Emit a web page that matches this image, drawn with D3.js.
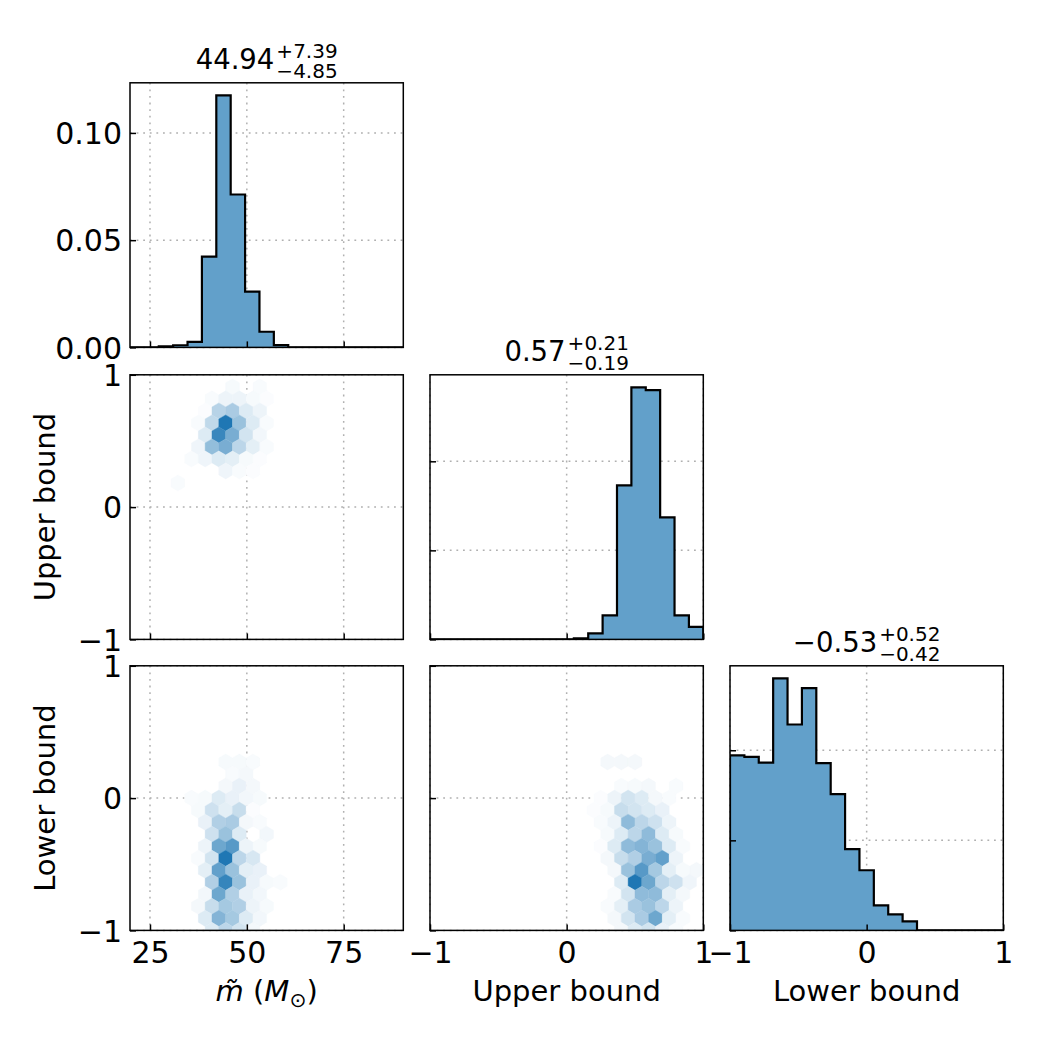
<!DOCTYPE html>
<html><head><meta charset="utf-8">
<script src="https://cdn.jsdelivr.net/npm/d3@7"></script>
<style>
body{margin:0;background:#fff}
svg{display:block}
text{font-family:"DejaVu Sans",sans-serif;fill:#000}
</style>
</head><body>
<svg id="c" width="1050" height="1050"></svg>
<script>
// ---------------- data ----------------
const mExtent = [19.84, 90.39];          // m~ (M_sun) range
const boundExtent = [-1, 1];             // upper / lower bound range
const histM     = [0,0,0.0005,0.001,0.0026,0.0423,0.1175,0.0713,0.026,0.0073,0.0011,0,0,0,0,0,0,0,0];
const histUpper = [0,0,0,0,0,0,0,0,0,0,0.011,0.067,0.27,1.73,2.83,2.80,1.37,0.27,0.14];
const histLower = [0.972,0.963,0.931,1.399,1.143,1.345,0.929,0.756,0.451,0.334,0.139,0.089,0.050,0,0,0,0,0,0];

const hexGridsize = 20;
// [x, y, relative count]
const hexMUpper = [
 [46.30,0.909,0.04],[53.35,0.909,0.03],
 [41.00,0.818,0.03],[44.53,0.818,0.08],[48.06,0.818,0.08],[51.59,0.818,0.04],[55.11,0.818,0.02],
 [39.24,0.727,0.02],[42.77,0.727,0.32],[46.30,0.727,0.38],[49.82,0.727,0.15],[53.35,0.727,0.08],
 [37.48,0.636,0.03],[41.00,0.636,0.28],[44.53,0.636,1.0],[48.06,0.636,0.45],[51.59,0.636,0.15],[55.11,0.636,0.03],
 [39.24,0.545,0.15],[42.77,0.545,0.88],[46.30,0.545,0.6],[49.82,0.545,0.2],[53.35,0.545,0.06],
 [37.48,0.455,0.07],[41.00,0.455,0.48],[44.53,0.455,0.6],[48.06,0.455,0.3],[51.59,0.455,0.12],[55.11,0.455,0.03],
 [35.71,0.364,0.03],[39.24,0.364,0.07],[42.77,0.364,0.15],[46.30,0.364,0.12],[49.82,0.364,0.04],[53.35,0.364,0.02],
 [44.53,0.273,0.07],[48.06,0.273,0.03],[51.59,0.273,0.02],
 [32.19,0.182,0.03]
];
const hexMLower = [
 [44.53,0.273,0.04],[48.06,0.273,0.04],[51.59,0.273,0.03],
 [46.30,0.182,0.03],[49.82,0.182,0.05],
 [44.53,0.091,0.05],[48.06,0.091,0.1],[51.59,0.091,0.05],
 [35.71,0,0.03],[39.24,0,0.04],[42.77,0,0.15],[46.30,0,0.1],[49.82,0,0.06],[53.35,0,0.04],
 [37.48,-0.091,0.04],[41.00,-0.091,0.22],[44.53,-0.091,0.12],[48.06,-0.091,0.25],[51.59,-0.091,0.02],
 [39.24,-0.182,0.1],[42.77,-0.182,0.35],[46.30,-0.182,0.38],[49.82,-0.182,0.05],[53.35,-0.182,0.03],
 [41.00,-0.273,0.22],[44.53,-0.273,0.45],[48.06,-0.273,0.15],[55.11,-0.273,0.06],
 [39.24,-0.364,0.08],[42.77,-0.364,0.65],[46.30,-0.364,0.75],[49.82,-0.364,0.08],[53.35,-0.364,0.04],
 [37.48,-0.455,0.03],[41.00,-0.455,0.2],[44.53,-0.455,1.0],[48.06,-0.455,0.3],[51.59,-0.455,0.18],
 [39.24,-0.545,0.12],[42.77,-0.545,0.7],[46.30,-0.545,0.45],[49.82,-0.545,0.12],[53.35,-0.545,0.1],
 [41.00,-0.636,0.35],[44.53,-0.636,0.9],[48.06,-0.636,0.45],[51.59,-0.636,0.1],[55.11,-0.636,0.04],[58.64,-0.636,0.03],
 [39.24,-0.727,0.06],[42.77,-0.727,0.65],[46.30,-0.727,0.35],[49.82,-0.727,0.1],[53.35,-0.727,0.06],
 [37.48,-0.818,0.05],[41.00,-0.818,0.25],[44.53,-0.818,0.4],[48.06,-0.818,0.35],[51.59,-0.818,0.08],[55.11,-0.818,0.04],
 [39.24,-0.909,0.15],[42.77,-0.909,0.55],[46.30,-0.909,0.4],[49.82,-0.909,0.15],[53.35,-0.909,0.06],
 [41.00,-1.0,0.15],[44.53,-1.0,0.3],[48.06,-1.0,0.2],[51.59,-1.0,0.05]
];
const hexUpperLower = [
 [0.3,0.273,0.05],[0.4,0.273,0.05],[0.5,0.273,0.05],
 [0.4,0.091,0.03],[0.5,0.091,0.04],[0.6,0.091,0.05],[0.8,0.091,0.03],
 [0.25,0,0.02],[0.35,0,0.08],[0.45,0,0.2],[0.55,0,0.15],[0.65,0,0.05],[0.75,0,0.03],
 [0.2,-0.091,0.02],[0.3,-0.091,0.04],[0.4,-0.091,0.25],[0.5,-0.091,0.2],[0.6,-0.091,0.15],[0.7,-0.091,0.1],
 [0.25,-0.182,0.03],[0.35,-0.182,0.08],[0.45,-0.182,0.5],[0.55,-0.182,0.3],[0.65,-0.182,0.22],[0.75,-0.182,0.08],
 [0.3,-0.273,0.04],[0.4,-0.273,0.15],[0.5,-0.273,0.3],[0.6,-0.273,0.5],[0.7,-0.273,0.15],[0.8,-0.273,0.04],
 [0.25,-0.364,0.02],[0.35,-0.364,0.15],[0.45,-0.364,0.5],[0.55,-0.364,0.55],[0.65,-0.364,0.45],[0.75,-0.364,0.15],[0.85,-0.364,0.03],
 [0.3,-0.455,0.05],[0.4,-0.455,0.25],[0.5,-0.455,0.35],[0.6,-0.455,0.6],[0.7,-0.455,0.7],[0.8,-0.455,0.08],
 [0.35,-0.545,0.05],[0.45,-0.545,0.45],[0.55,-0.545,0.75],[0.65,-0.545,0.4],[0.75,-0.545,0.12],[0.85,-0.545,0.04],[0.95,-0.545,0.05],
 [0.4,-0.636,0.15],[0.5,-0.636,1.0],[0.6,-0.636,0.65],[0.7,-0.636,0.3],[0.8,-0.636,0.22],[0.9,-0.636,0.07],
 [0.35,-0.727,0.03],[0.45,-0.727,0.2],[0.55,-0.727,0.5],[0.65,-0.727,0.5],[0.75,-0.727,0.12],[0.85,-0.727,0.05],
 [0.3,-0.818,0.03],[0.4,-0.818,0.12],[0.5,-0.818,0.38],[0.6,-0.818,0.45],[0.7,-0.818,0.3],[0.8,-0.818,0.08],
 [0.35,-0.909,0.05],[0.45,-0.909,0.2],[0.55,-0.909,0.38],[0.65,-0.909,0.65],[0.75,-0.909,0.12],[0.85,-0.909,0.03],
 [0.4,-1.0,0.05],[0.5,-1.0,0.15],[0.6,-1.0,0.2],[0.7,-1.0,0.1],[0.8,-1.0,0.03]
];

const mTicks = [25, 50, 75];
const boundTicks = [-1, 0, 1];
const histMTicks = [0, 0.05, 0.10];
const histMTickLabels = ["0.00", "0.05", "0.10"];
const histUpperTicks = [0, 1, 2];
const histLowerTicks = [0, 0.5, 1.0];

const titleM = ["44.94", "+7.39", "\u22124.85"];
const titleUpper = ["0.57", "+0.21", "\u22120.19"];
const titleLower = ["\u22120.53", "+0.52", "\u22120.42"];
const labelUpper = "Upper bound";
const labelLower = "Lower bound";

// ---------------- layout ----------------
const svg = d3.select("#c");
const colX = [130, 430, 730];
const rowY = [82.8, 374.8, 665.8];
const PW = 273.3, PH = 264.6;
const histFill = "#62a0ca";
const hexColor = d3.interpolateRgb("#ffffff", "#1f77b4");
const TICK_FS = 30, LABEL_FS = 29;
const fmtNum = d => (d < 0 ? "\u2212" : "") + Math.abs(d);

function xScale(col, dom){ return d3.scaleLinear().domain(dom).range([colX[col], colX[col]+PW]); }
function yScale(row, dom){ return d3.scaleLinear().domain(dom).range([rowY[row]+PH, rowY[row]]); }

let clipId = 0;
function makePanel(col, row, x, y, xt, yt, opts){
  const g = svg.append("g");
  const id = "clip" + (clipId++);
  g.append("clipPath").attr("id", id).append("rect")
    .attr("x", colX[col]).attr("y", rowY[row]).attr("width", PW).attr("height", PH);
  // grid
  const grid = g.append("g").attr("stroke", "#b0b0b0").attr("stroke-width", 1.5)
    .attr("stroke-dasharray", "1.8,4.8").attr("fill", "none");
  xt.forEach(v => grid.append("line").attr("x1", x(v)).attr("x2", x(v)).attr("y1", rowY[row]).attr("y2", rowY[row]+PH));
  yt.forEach(v => grid.append("line").attr("y1", y(v)).attr("y2", y(v)).attr("x1", colX[col]).attr("x2", colX[col]+PW));
  const plot = g.append("g").attr("clip-path", `url(#${id})`);
  const axes = g.append("g");
  const ax = axes.append("g").attr("transform", `translate(0,${rowY[row]+PH})`)
    .call(d3.axisBottom(x).tickValues(xt).tickSizeInner(-6).tickSizeOuter(0).tickPadding(11)
      .tickFormat(opts.xLabels ? (opts.xFmt || fmtNum) : () => ""));
  const ay = axes.append("g").attr("transform", `translate(${colX[col]},0)`)
    .call(d3.axisLeft(y).tickValues(yt).tickSizeInner(-6).tickSizeOuter(0).tickPadding(8)
      .tickFormat(opts.yLabels ? (opts.yFmt || fmtNum) : () => ""));
  [ax, ay].forEach(a => {
    a.attr("font-size", TICK_FS).attr("font-family", "DejaVu Sans");
    a.select(".domain").remove();
    a.selectAll(".tick line").attr("stroke", "#000").attr("stroke-width", 1.5);
  });
  ay.selectAll(".tick text").attr("dy", "0.36em");
  axes.append("rect").attr("x", colX[col]).attr("y", rowY[row]).attr("width", PW).attr("height", PH)
    .attr("fill", "none").attr("stroke", "#000").attr("stroke-width", 1.5);
  return plot;
}

function drawHist(col, row, dom, values, ticksX, ticksY, opts){
  const x = xScale(col, dom);
  const y = yScale(row, [0, 1.05 * d3.max(values)]);
  const plot = makePanel(col, row, x, y, ticksX, ticksY, opts);
  const edges = d3.range(values.length + 1).map(k => dom[0] + k * (dom[1] - dom[0]) / values.length);
  const pts = [[edges[0], 0]];
  values.forEach((v, i) => { pts.push([edges[i], v]); pts.push([edges[i+1], v]); });
  pts.push([edges[edges.length-1], 0]);
  plot.append("path").datum(pts)
    .attr("d", d3.area().x(d => x(d[0])).y0(y(0)).y1(d => y(d[1])))
    .attr("fill", histFill);
  plot.append("path").datum(pts)
    .attr("d", d3.line().x(d => x(d[0])).y(d => y(d[1])))
    .attr("fill", "none").attr("stroke", "#000").attr("stroke-width", 2.2).attr("stroke-linejoin", "miter");
}

function drawHex(col, row, xDom, yDom, cells, ticksX, ticksY, opts){
  const x = xScale(col, xDom), y = yScale(row, yDom);
  const plot = makePanel(col, row, x, y, ticksX, ticksY, opts);
  const sx = (xDom[1] - xDom[0]) / hexGridsize;
  const sy = (yDom[1] - yDom[0]) / Math.floor(hexGridsize / Math.sqrt(3));
  const off = [[0.5,-0.5],[0.5,0.5],[0,1],[-0.5,0.5],[-0.5,-0.5],[0,-1]];
  plot.selectAll("path.hex").data(cells).join("path")
    .attr("d", c => "M" + off.map(o => [x(c[0] + o[0]*sx), y(c[1] + o[1]*sy/3)].join(",")).join("L") + "Z")
    .attr("fill", c => hexColor(c[2]))
    .attr("stroke", c => hexColor(c[2])).attr("stroke-width", 0.4);
}

drawHist(0, 0, mExtent, histM, mTicks, histMTicks,
  {xLabels:false, yLabels:true, yFmt:(d,i) => histMTickLabels[i]});
drawHex(0, 1, mExtent, boundExtent, hexMUpper, mTicks, boundTicks, {xLabels:false, yLabels:true});
drawHex(0, 2, mExtent, boundExtent, hexMLower, mTicks, boundTicks, {xLabels:true, yLabels:true});
drawHist(1, 1, boundExtent, histUpper, boundTicks, histUpperTicks, {xLabels:false, yLabels:false});
drawHex(1, 2, boundExtent, boundExtent, hexUpperLower, boundTicks, boundTicks, {xLabels:true, yLabels:false});
drawHist(2, 2, boundExtent, histLower, boundTicks, histLowerTicks, {xLabels:true, yLabels:false});

function title(col, row, parts){
  const cx = colX[col] + PW/2, base = rowY[row] - 14;
  const g = svg.append("g");
  const main = g.append("text").attr("x", 0).attr("y", 0).attr("font-size", 27.5).text(parts[0]);
  const w1 = main.node().getComputedTextLength();
  const sup = g.append("text").attr("x", w1 + 2).attr("y", -10.5).attr("font-size", 20).text(parts[1]);
  const sub = g.append("text").attr("x", w1 + 2).attr("y", 9).attr("font-size", 20).text(parts[2]);
  const w2 = Math.max(sup.node().getComputedTextLength(), sub.node().getComputedTextLength());
  g.attr("transform", `translate(${cx - (w1 + 2 + w2)/2},${base})`);
}
title(0, 0, titleM);
title(1, 1, titleUpper);
title(2, 2, titleLower);

const xlabBase = rowY[2] + PH + 71;
const mlab = svg.append("text").attr("x", colX[0] + PW/2).attr("y", xlabBase)
  .attr("text-anchor", "middle").attr("font-size", LABEL_FS);
mlab.append("tspan").attr("font-style", "italic").text("m\u0303");
mlab.append("tspan").text(" (");
mlab.append("tspan").attr("font-style", "italic").text("M");
mlab.append("tspan").attr("font-size", LABEL_FS*0.7).attr("dy", 6).text("\u2299");
mlab.append("tspan").attr("dy", -6).text(")");
svg.append("text").attr("x", colX[1] + PW/2).attr("y", xlabBase).attr("text-anchor", "middle")
  .attr("font-size", LABEL_FS).text(labelUpper);
svg.append("text").attr("x", colX[2] + PW/2).attr("y", xlabBase).attr("text-anchor", "middle")
  .attr("font-size", LABEL_FS).text(labelLower);
[[1, labelUpper], [2, labelLower]].forEach(([r, t]) => {
  svg.append("text").attr("transform", `translate(55,${rowY[r] + PH/2}) rotate(-90)`)
    .attr("text-anchor", "middle").attr("font-size", LABEL_FS).text(t);
});
</script>
</body></html>
